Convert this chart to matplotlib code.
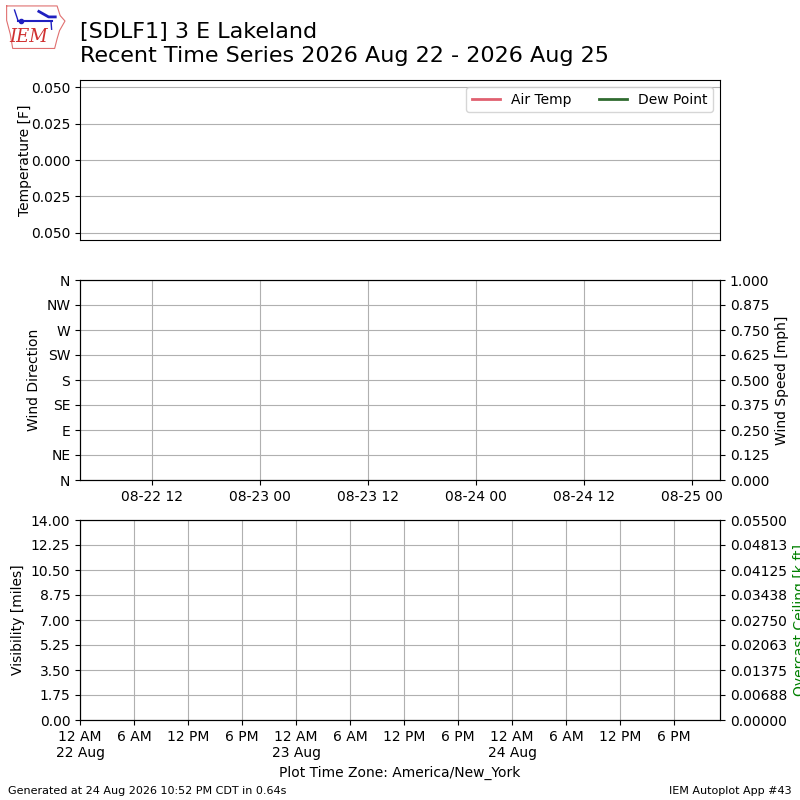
import datetime
import numpy as np
import matplotlib
matplotlib.use('Agg')
import matplotlib.pyplot as plt
import matplotlib.dates as mdates
from matplotlib.ticker import FixedLocator, FuncFormatter

# station has no observations in the window -> empty series
times = []
air_temp = []
dew_point = []
wind_dir = []
wind_speed = []
visibility = []
ceiling = []

temp_ticks = [0.05, 0.025, 0.0, -0.025, -0.05]
temp_tick_labels = ["0.050", "0.025", "0.000", "0.025", "0.050"]
dir_labels = ["N", "NE", "E", "SE", "S", "SW", "W", "NW", "N"]
utc_start = datetime.datetime(2026, 8, 22, 4, 0)
utc_end = datetime.datetime(2026, 8, 25, 3, 6)
local_start = datetime.datetime(2026, 8, 22, 0, 0)
local_end = datetime.datetime(2026, 8, 24, 23, 6)

fig = plt.figure(figsize=(8, 8), dpi=100)

# logo
lax = fig.add_axes([0.006, 0.936, 0.076, 0.06])
lax.set_xlim(0, 10)
lax.set_ylim(0, 7)
lax.axis('off')
outline = np.array([[0.3, 6.6], [8.6, 6.6], [9.1, 5.2], [9.9, 4.4], [9.0, 3.0],
                    [8.6, 1.8], [8.2, 0.4], [1.3, 0.4], [0.9, 2.5], [0.3, 4.5], [0.3, 6.6]])
lax.plot(outline[:, 0], outline[:, 1], color='#e07070', lw=0.8)
lax.plot([2.2, 7.8], [4.4, 4.4], color='#2020c0', lw=1.5)
lax.plot([2.2, 1.6], [4.4, 6.0], color='#2020c0', lw=1)
lax.plot([5.6, 7.2, 8.3], [5.8, 5.0, 5.0], color='#2020c0', lw=2)
lax.plot([7.6, 7.7], [4.4, 3.2], color='#2020c0', lw=1)
lax.plot([2.6], [4.4], 'o', color='#2020c0', ms=3)
lax.text(3.9, 0.7, "IEM", color='#d03030', fontsize=13, family='DejaVu Serif',
         style='italic', ha='center', va='bottom')

fig.text(0.1, 0.918, "[SDLF1] 3 E Lakeland\nRecent Time Series 2026 Aug 22 - 2026 Aug 25",
         fontsize=16, va='bottom', ha='left')

# temperature
ax1 = fig.add_axes([0.1, 0.7, 0.8, 0.2])
ax1.plot(times, air_temp, color='#e06070', lw=2, label='Air Temp')
ax1.plot(times, dew_point, color='#306b30', lw=2, label='Dew Point')
ax1.set_ylim(-0.055, 0.055)
ax1.yaxis.set_major_locator(FixedLocator(temp_ticks))
ax1.set_yticklabels(temp_tick_labels)
ax1.set_xticks([])
ax1.grid(True, axis='y')
ax1.set_ylabel("Temperature [F]")
ax1.yaxis.set_label_coords(-0.075, 0.5)
ax1.legend(loc='upper right', ncol=2)

# wind
ax2 = fig.add_axes([0.1, 0.4, 0.8, 0.25])
ax2.plot(times, wind_dir)
ax2.set_ylim(0, 360)
ax2.set_yticks(np.arange(0, 361, 45))
ax2.set_yticklabels(dir_labels)
ax2.set_ylabel("Wind Direction")
ax2.set_xlim(utc_start, utc_end)
ax2.xaxis.set_major_locator(mdates.HourLocator(byhour=[0, 12]))
ax2.xaxis.set_major_formatter(mdates.DateFormatter('%m-%d %H'))
ax2.grid(True)
ax2b = ax2.twinx()
ax2b.plot(times, wind_speed)
ax2b.set_ylim(0, 1)
ax2b.set_yticks(np.linspace(0, 1, 9))
ax2b.yaxis.set_major_formatter(FuncFormatter(lambda v, p: "%.3f" % v))
ax2b.set_ylabel("Wind Speed [mph]")


def local_fmt(v, pos):
    d = mdates.num2date(v)
    h = d.hour % 12
    if h == 0:
        h = 12
    ampm = "AM" if d.hour < 12 else "PM"
    s = "%d %s" % (h, ampm)
    if d.hour == 0:
        s += "\n%d %s" % (d.day, d.strftime('%b'))
    return s


# visibility / ceiling
ax3 = fig.add_axes([0.1, 0.1, 0.8, 0.25])
ax3.plot(times, visibility)
ax3.set_ylim(0, 14)
ax3.set_yticks(np.linspace(0, 14, 9))
ax3.yaxis.set_major_formatter(FuncFormatter(lambda v, p: "%.2f" % v))
ax3.set_ylabel("Visibility [miles]")
ax3.set_xlim(local_start, local_end)
ax3.xaxis.set_major_locator(mdates.HourLocator(byhour=[0, 6, 12, 18]))
ax3.xaxis.set_major_formatter(FuncFormatter(local_fmt))
ax3.grid(True)
ax3.set_xlabel("Plot Time Zone: America/New_York")
ax3b = ax3.twinx()
ax3b.plot(times, ceiling)
ax3b.set_ylim(0, 0.055)
ax3b.set_yticks(np.linspace(0, 0.055, 9))
ax3b.yaxis.set_major_formatter(FuncFormatter(lambda v, p: "%.5f" % v))
ax3b.set_ylabel("Overcast Ceiling [k ft]", color='g')

fig.text(0.01, 0.008, "Generated at 24 Aug 2026 10:52 PM CDT in 0.64s", fontsize=8)
fig.text(0.99, 0.008, "IEM Autoplot App #43", fontsize=8, ha='right')

fig.savefig("out.png", dpi=100)
